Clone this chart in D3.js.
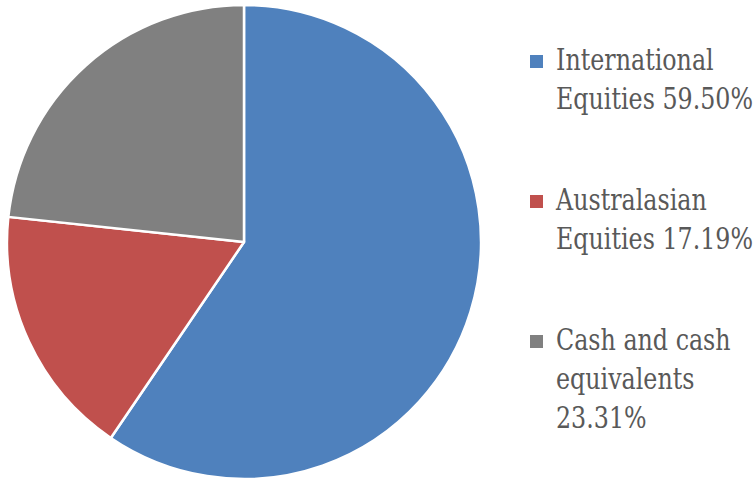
<!DOCTYPE html>
<html><head><meta charset="utf-8">
<script src="https://cdn.jsdelivr.net/npm/d3@7"></script>
<style>body{margin:0;background:#fff;}
.lg{font-family:"DejaVu Serif",serif;}</style>
</head><body>
<script>
const categories = ["International Equities", "Australasian Equities", "Cash and cash equivalents"];
const values = [59.50, 17.19, 23.31];
const colors = ["#4F81BD", "#C0504D", "#808080"];
const legendLines = [["International", "Equities 59.50%"], ["Australasian", "Equities 17.19%"], ["Cash and cash", "equivalents", "23.31%"]];

const W = 755, H = 481;
const svg = d3.select("body").append("svg").attr("width", W).attr("height", H);
const cx = 244, cy = 242, r = 237;
const pie = d3.pie().sort(null).value(d => d)(values);
const arc = d3.arc().innerRadius(0).outerRadius(r);
svg.append("g").attr("transform", `translate(${cx},${cy})`)
  .selectAll("path").data(pie).join("path")
  .attr("d", arc).attr("fill", (d, i) => colors[i])
  .attr("stroke", "#fff").attr("stroke-width", 2.5).attr("stroke-linejoin", "round");

const legendTop = [70, 210, 350];
const lg = svg.append("g");
legendLines.forEach((lines, i) => {
  lg.append("rect").attr("x", 530).attr("y", legendTop[i] - 15).attr("width", 13).attr("height", 13).attr("fill", colors[i]);
  const t = lg.append("g").attr("transform", `translate(556,${legendTop[i]}) scale(0.82,1)`)
    .append("text").attr("class", "lg").attr("x", 0).attr("y", 0)
    .attr("font-size", 29).attr("fill", "#595959");
  lines.forEach((l, j) => t.append("tspan").attr("x", 0).attr("dy", j === 0 ? 0 : 39).text(l));
});
</script>
</body></html>
